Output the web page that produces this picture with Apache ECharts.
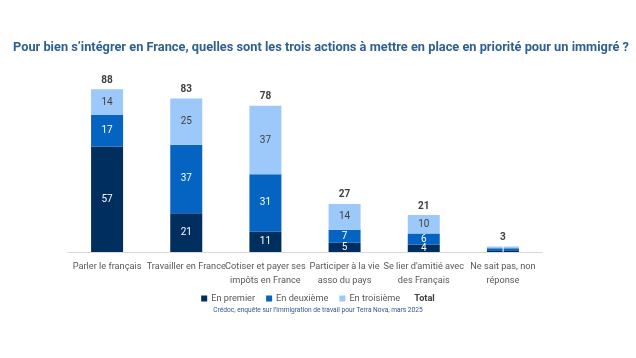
<!DOCTYPE html>
<html><head><meta charset="utf-8">
<script src="https://cdn.jsdelivr.net/npm/echarts@6/dist/echarts.min.js"></script>
<style>html,body{margin:0;padding:0;background:#fff}#c{width:636px;height:358px}</style>
</head><body><div id="c"></div>
<script>
const categories = ["Parler le français","Travailler en France","Cotiser et payer ses\nimpôts en France","Participer à la vie\nasso du pays","Se lier d'amitié avec\ndes Français","Ne sait pas, non\nréponse"];
const enPremier = [57,21,11,5,4,1];
const enDeuxieme = [17,37,31,7,6,1];
const enTroisieme = [14,25,37,14,10,1];
const totals = [88,83,78,27,21,3];

const FF = "Roboto";
const chart = echarts.init(document.getElementById('c'));
const lblFont = {fontFamily:FF, fontSize:10};
function segLabel(color, hideLast){
  return Object.assign({show:true, position:'inside', color:color,
    formatter:p=> (hideLast && p.dataIndex===5) ? '' : p.value}, lblFont);
}
chart.setOption({
  animation:false,
  title:{text:"Pour bien s’intégrer en France, quelles sont les trois actions à mettre en place en priorité pour un immigré ?",
    left:8, top:36, textStyle:{color:'#2E5F90', fontSize:12.8, fontWeight:'bold', fontFamily:FF}},
  grid:{left:67.5, right:93.5, top:67, bottom:106},
  xAxis:{type:'category', data:categories,
    axisLine:{lineStyle:{color:'#d9d9d9'}}, axisTick:{show:false},
    axisLabel:{color:'#595959', fontSize:9.2, fontFamily:FF, interval:0, margin:8, lineHeight:14}},
  yAxis:{type:'value', min:0, max:100, show:false},
  legend:{top:289, left:'center', itemWidth:6, itemHeight:6, itemGap:11, icon:'rect',
    textStyle:{color:'#595959', fontSize:9.2, fontFamily:FF, padding:[0,0,0,-1]},
    data:['En premier','En deuxième','En troisième',{name:'Total', icon:'none', textStyle:{fontWeight:'bold', color:'#404040', padding:[0,0,0,-8]}}]},
  graphic:[{type:'text', left:'center', top:307, style:{text:"Crédoc, enquête sur l’immigration de travail pour Terra Nova, mars 2025", fill:'#2F5597', fontSize:6.6, fontFamily:FF}}],
  series:[
    {name:'En premier', type:'bar', stack:'s', barWidth:32, data:enPremier, itemStyle:{color:'#002E5E'}, label:segLabel('#ffffff', true)},
    {name:'En deuxième', type:'bar', stack:'s', data:enDeuxieme, itemStyle:{color:'#0563C1'}, label:segLabel('#ffffff', false)},
    {name:'En troisième', type:'bar', stack:'s', data:enTroisieme, itemStyle:{color:'#9CC9FA'}, label:segLabel('#404040', true)},
    {name:'Total', type:'bar', stack:'s', data:totals.map(()=>0), itemStyle:{color:'transparent'},
      label:{show:true, position:'top', distance:4, color:'#404040', fontSize:10, fontWeight:'bold', fontFamily:FF,
        formatter:p=>totals[p.dataIndex]}}
  ]
});
</script></body></html>
